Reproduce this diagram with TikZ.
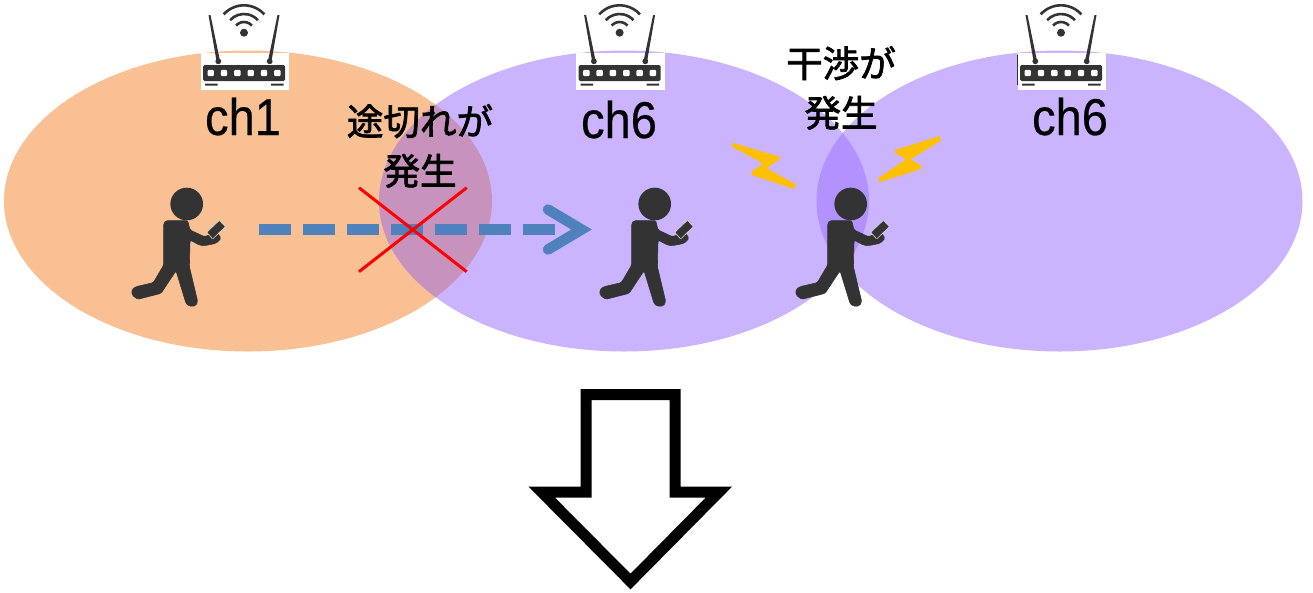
\documentclass[tikz,border=0pt]{standalone}
\usepackage{fontspec}
\setmainfont[FakeBold=0.5]{Liberation Sans}
\newfontfamily\cjk[FakeBold=2]{Noto Sans CJK JP}
\definecolor{orangeA}{HTML}{F9C193}
\definecolor{purpleA}{HTML}{CBB4FF}
\definecolor{mixOP}{HTML}{C793BC}
\definecolor{mixPP}{HTML}{B292FF}
\definecolor{manc}{HTML}{333333}
\definecolor{flow}{HTML}{4F81BD}
\definecolor{boltc}{HTML}{FFC000}
\tikzset{
 x=1pt,y=-1pt,
 chlabel/.style={font=\fontsize{47}{50}\selectfont,inner sep=0pt,anchor=base,yscale=1.1,transform shape},
 jplabel/.style={font=\cjk\fontsize{36.5}{49.5}\selectfont,align=center,inner sep=0pt,text=black},
 flowline/.style={flow,line width=10.5pt},
 crossline/.style={red,line width=3pt},
 person/.pic={
  \begin{scope}[xscale=1/3,yscale=1/3,shift={(-212,-72)}]
  \fill[manc] (212,72) circle (49);
  \filldraw[manc,line width=.6pt,rounded corners=1.5pt] (150,122) -- (215,122) -- (222,150) -- (265,170) -- (280,165) -- (305,160) -- (315,175) -- (300,190) -- (265,197) -- (250,195) -- (222,180) -- (220,260) -- (245,365) -- (238,378) -- (218,378) -- (210,370) -- (180,272) -- (135,340) -- (65,358) -- (48,345) -- (48,328) -- (60,320) -- (112,308) -- (143,255) -- (143,130) -- cycle;
  \fill[manc,draw=white!85!black,line width=.6pt,rounded corners=.8pt] (290,177) -- (272,157) -- (310,121) -- (328,140) -- cycle;
  \end{scope}
 },
 router/.pic={
  \fill[white] (-43.5,-20) rectangle (45,17);
  \fill[manc,rounded corners=1.5pt] (-41,-8) rectangle (41,8);
  \foreach \i in {-33.3,-20,-6.7,6.7,20,33.3} \fill[white,rounded corners=1.2pt] (\i-3.2,-3.2) rectangle (\i+3.2,3.2);
  \fill[manc] (-39,10.5) rectangle (-26.5,12.5) (27,10.5) rectangle (39.5,12.5);
  \fill[manc] (-27.5,-12) -- (-24,-12) -- (-33.5,-58) -- (-35.5,-58) -- cycle;
  \fill[manc] (24,-12) -- (27.5,-12) -- (35.5,-58) -- (33.5,-58) -- cycle;
  \fill[manc] (-25.7,-11.7) circle (2.9) (25.7,-11.7) circle (2.9);
  \fill[manc] (0,-40.3) circle (4);
  \foreach \r in {10.7,18.7,27.4} \draw[manc,line width=2.6pt] (0,-40.3) ++(222:\r) arc[start angle=222,end angle=318,radius=\r];
 },
}
\begin{document}
\begin{tikzpicture}
\useasboundingbox (0,0) rectangle (1313,592);
\fill[white] (0,0) rectangle (1313,592);
% coverage ellipses
\fill[orangeA] (248,201) ellipse[x radius=244,y radius=150.5];
\fill[purpleA] (624,201) ellipse[x radius=245,y radius=150.5];
\fill[purpleA] (1059.5,201) ellipse[x radius=243,y radius=150.5];
\begin{scope}
 \clip (248,201) ellipse[x radius=244,y radius=150.5];
 \fill[mixOP] (624,201) ellipse[x radius=245,y radius=150.5];
\end{scope}
\begin{scope}
 \clip (624,201) ellipse[x radius=245,y radius=150.5];
 \fill[mixPP] (1059.5,201) ellipse[x radius=243,y radius=150.5];
\end{scope}
% routers
\pic at (244,73) {router};
\pic at (619.6,73) {router};
\pic at (1061,73) {router};
\fill[manc] (1016.8,55) rectangle (1017.6,85);
% labels
\node[chlabel] (c1) at (243,135) {ch1};
\node[chlabel] (c2) at (619,138) {ch6};
\node[chlabel] (c3) at (1070,135) {ch6};
\node[jplabel] (t1) at (420,146) {途切れが\\発生};
\node[jplabel] (t2) at (841,88) {干渉が\\発生};
% people
\pic at (186.7,204) {person};
\pic at (654.7,204) {person};
\pic at (850.7,204) {person};
% movement arrow
\coordinate (fa) at (258.7,229.5);
\coordinate (fb) at (556,229.5);
\coordinate (ha) at (548,209.5);
\coordinate (hb) at (581.5,229.5);
\coordinate (hc) at (548,249.5);
\draw[flowline,dash pattern=on 32.7pt off 11.3pt] (fa) -- (fb);
\draw[flowline,line join=miter,line cap=round] (ha) -- (hb) -- (hc);
% cross
\coordinate (x1) at (359,187.7);
\coordinate (x2) at (466.7,271.7);
\coordinate (x3) at (466.7,187.7);
\coordinate (x4) at (359,271.7);
\draw[crossline] (x1) -- (x2);
\draw[crossline] (x3) -- (x4);
% bolts
\fill[boltc] (732.7,142.7) -- (779.3,156.7) -- (779.3,159.3) -- (766.7,168.3) -- (795.3,184) -- (794,189) -- (751.7,175) -- (751.7,171.7) -- (763,163.3) -- (732,146.7) -- cycle;
\fill[boltc] (940,136) -- (895,150) -- (895,152.7) -- (906,159.3) -- (878.3,178.3) -- (879.3,182.3) -- (921,169) -- (921.7,166) -- (910.7,159.3) -- (940.7,140.7) -- cycle;
% big arrow
\draw[black,line width=11pt,fill=white,miter limit=10] (586,394.5) -- (675,394.5) -- (675,492) -- (719,492) -- (630.5,581.5) -- (541.6,492) -- (586,492) -- cycle;
\end{tikzpicture}
\end{document}
